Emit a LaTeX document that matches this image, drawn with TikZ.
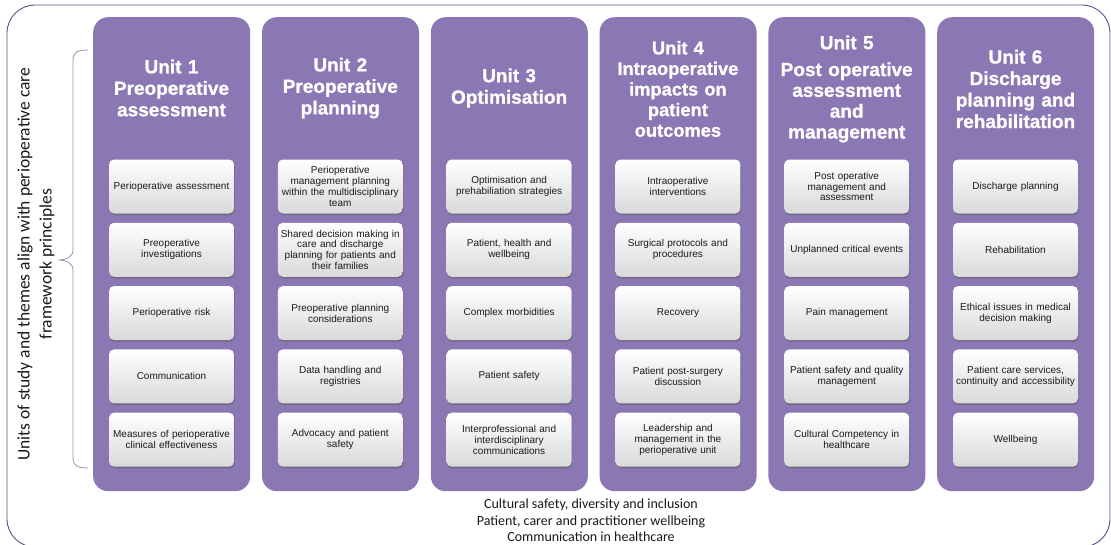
\documentclass[tikz,border=0pt]{standalone}
\usepackage{fontspec}
\setmainfont{Liberation Sans}
\newfontfamily\titlefont[BoldFeatures={FakeBold=0.9}]{Liberation Sans}
\newfontfamily\calib{Carlito}
\usetikzlibrary{shadows}
\definecolor{unitpurple}{HTML}{8A77B4}
\definecolor{framecol}{HTML}{5E4E84}
\definecolor{bracecol}{HTML}{9A92B4}
\definecolor{cardtext}{HTML}{1A1A1A}
\begin{document}
\begin{tikzpicture}[x=1pt,y=-1pt,
  unitbox/.style={fill=unitpurple, draw=none, rounded corners=15pt, minimum width=157pt, minimum height=474pt, inner sep=0pt, anchor=north west},
  card/.style={rounded corners=5pt, top color=white, bottom color=black!15, minimum width=125pt, minimum height=54pt, inner sep=0pt, text width=123pt, align=center, font=\fontsize{10}{10.8}\selectfont, text=cardtext, drop shadow={shadow xshift=0.6pt, shadow yshift=-1.6pt, opacity=0.55, fill=black!65}},
  utitle/.style={text=white, align=center, text width=154pt, inner sep=0pt, font=\titlefont\bfseries\fontsize{19}{21.5}\selectfont},
  sidetext/.style={align=center, inner sep=0pt, font=\calib\fontsize{17.5}{22}\selectfont, text=black!90},
  foottext/.style={align=center, inner sep=0pt, font=\calib\fontsize{14}{16.5}\selectfont, text=black!90}
]
\useasboundingbox (0,0) rectangle (1111,544);
\draw[framecol, line width=0.9pt, rounded corners=28pt] (7,5) rectangle (1110,547);

% unit columns
\foreach \i in {1,...,6} {
  \node[unitbox] (u\i) at ({93+168.8*(\i-1)},17) {};
}

% titles
\node[utitle] (t1) at (171.5,88) {Unit 1\\Preoperative\\assessment};
\node[utitle] (t2) at (340.3,88) {Unit 2\\Preoperative\\planning};
\node[utitle] (t3) at (509.1,88) {Unit 3\\Optimisation};
\node[utitle, font=\titlefont\bfseries\fontsize{18.3}{20.6}\selectfont] (t4) at (677.9,89) {Unit 4\\Intraoperative\\impacts on\\patient\\outcomes};
\node[utitle, font=\titlefont\bfseries\fontsize{19}{20.8}\selectfont] (t5) at (846.7,89) {Unit 5\\[6pt]Post operative\\assessment\\and\\management};
\node[utitle] (t6) at (1015.5,89) {Unit 6\\Discharge\\planning and\\rehabilitation};

% cards
\foreach \t [count=\j] in {{Perioperative assessment},{Preoperative\\investigations},{Perioperative risk},{Communication},{Measures of perioperative\\clinical effectiveness}}
  \node[card] (c1\j) at (171.5,{186.5+63.3*(\j-1)}) {\t};
\foreach \t [count=\j] in {{Perioperative\\management planning\\within the multidisciplinary\\team},{Shared decision making in\\care and discharge\\planning for patients and\\their families},{Preoperative planning\\considerations},{Data handling and\\registries},{Advocacy and patient\\safety}}
  \node[card] (c2\j) at (340.3,{186.5+63.3*(\j-1)}) {\t};
\foreach \t [count=\j] in {{Optimisation and\\prehabiliation strategies},{Patient, health and\\wellbeing},{Complex morbidities},{Patient safety},{Interprofessional and\\interdisciplinary\\communications}}
  \node[card] (c3\j) at (509.1,{186.5+63.3*(\j-1)}) {\t};
\foreach \t [count=\j] in {{Intraoperative\\interventions},{Surgical protocols and\\procedures},{Recovery},{Patient post-surgery\\discussion},{Leadership and\\management in the\\perioperative unit}}
  \node[card] (c4\j) at (677.9,{186.5+63.3*(\j-1)}) {\t};
\foreach \t [count=\j] in {{Post operative\\management and\\assessment},{Unplanned critical events},{Pain management},{Patient safety and quality\\management},{Cultural Competency in\\healthcare}}
  \node[card] (c5\j) at (846.7,{186.5+63.3*(\j-1)}) {\t};
\foreach \t [count=\j] in {{Discharge planning},{Rehabilitation},{Ethical issues in medical\\decision making},{Patient care services,\\continuity and accessibility},{Wellbeing}}
  \node[card] (c6\j) at (1015.5,{186.5+63.3*(\j-1)}) {\t};

% brace
\draw[bracecol, line width=0.8pt] (88,50) .. controls (78,50) and (73,52) .. (73,60) -- (73,250) .. controls (73,257) and (66,260) .. (58,260) .. controls (66,260) and (73,263) .. (73,270) -- (73,458) .. controls (73,466) and (78,468) .. (88,468);

% side text
\node[sidetext, rotate=90] (side) at (36,264) {Units of study and themes align with perioperative care\\framework principles};

% footer
\node[foottext] (foot) at (591,520.5) {Cultural safety, diversity and inclusion\\Patient, carer and practitioner wellbeing\\Communication in healthcare};
\end{tikzpicture}
\end{document}
